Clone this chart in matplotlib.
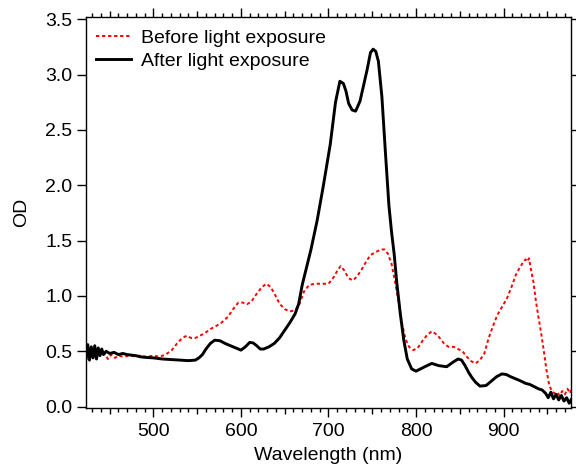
import numpy as np
import matplotlib
matplotlib.use("Agg")
import matplotlib.pyplot as plt
from matplotlib.ticker import MultipleLocator

plt.rcParams['font.family'] = ['Liberation Sans', 'DejaVu Sans']

# after light exposure (black)
wl_after = [423, 425, 427, 429, 431, 433, 435, 437, 439, 441, 443, 446, 450, 455, 460,
            465, 470, 475, 480, 485, 490, 500, 510, 520, 530, 540, 548, 552, 556, 560,
            565, 570, 576, 582, 588, 594, 600, 605, 610, 614, 618, 622, 626, 632, 638,
            644, 650, 656, 662, 666, 670, 675, 680, 687, 694, 702, 708, 713, 717, 720,
            723, 727, 731, 736, 740, 744, 748, 751, 754, 757, 761, 765, 769, 772, 775,
            778, 782, 786, 790, 795, 800, 805, 810, 818, 826, 835, 842, 848, 852, 856,
            860, 864, 868, 873, 880, 886, 892, 898, 903, 908, 914, 920, 925, 930, 935,
            940, 944, 948, 951, 954, 957, 960, 963, 966, 969, 972, 975, 977]
od_after = [0.45, 0.56, 0.42, 0.54, 0.44, 0.55, 0.43, 0.53, 0.46, 0.52, 0.47, 0.50, 0.48, 0.49, 0.47,
            0.48, 0.47, 0.465, 0.46, 0.45, 0.445, 0.44, 0.43, 0.425, 0.42, 0.415, 0.42, 0.44, 0.47, 0.52,
            0.57, 0.60, 0.595, 0.57, 0.55, 0.53, 0.51, 0.54, 0.58, 0.575, 0.55, 0.52, 0.52, 0.54, 0.57,
            0.62, 0.69, 0.76, 0.84, 0.93, 1.10, 1.26, 1.42, 1.68, 1.99, 2.37, 2.75, 2.94, 2.92, 2.85,
            2.74, 2.68, 2.67, 2.76, 2.90, 3.04, 3.20, 3.23, 3.21, 3.12, 2.80, 2.30, 1.82, 1.58, 1.38,
            1.12, 0.84, 0.60, 0.43, 0.34, 0.32, 0.34, 0.36, 0.39, 0.37, 0.36, 0.40, 0.43, 0.42, 0.37,
            0.31, 0.26, 0.22, 0.185, 0.19, 0.23, 0.27, 0.295, 0.29, 0.27, 0.25, 0.23, 0.21, 0.20, 0.18,
            0.16, 0.15, 0.12, 0.08, 0.13, 0.07, 0.11, 0.06, 0.10, 0.05, 0.08, 0.03, 0.06]

# before light exposure (red dotted)
wl_before = [423, 425, 427, 429, 431, 434, 437, 440, 444, 448, 452, 456, 460, 466, 472,
             478, 485, 492, 500, 507, 514, 521, 527, 533, 538, 543, 548, 553, 558, 565,
             572, 578, 585, 591, 597, 602, 607, 612, 618, 624, 629, 634, 639, 644, 650,
             656, 662, 667, 672, 678, 685, 692, 700, 706, 711, 714, 718, 723, 728, 733,
             738, 743, 748, 755, 760, 764, 768, 772, 776, 780, 784, 788, 792, 797, 802,
             808, 813, 818, 822, 826, 832, 837, 843, 848, 853, 858, 863, 868, 873, 878,
             883, 888, 893, 899, 904, 909, 914, 918, 922, 925, 927, 929, 931, 934, 937,
             940, 943, 946, 949, 952, 955, 958, 961, 964, 967, 970, 973, 976, 977]
od_before = [0.58, 0.42, 0.52, 0.45, 0.50, 0.44, 0.51, 0.46, 0.48, 0.43, 0.47, 0.44, 0.46, 0.45, 0.46,
             0.455, 0.46, 0.45, 0.46, 0.45, 0.47, 0.51, 0.57, 0.62, 0.64, 0.62, 0.62, 0.64, 0.66, 0.70,
             0.73, 0.76, 0.81, 0.88, 0.94, 0.94, 0.925, 0.95, 1.02, 1.08, 1.11, 1.08, 1.01, 0.93, 0.88,
             0.86, 0.87, 0.93, 1.04, 1.10, 1.11, 1.11, 1.11, 1.17, 1.24, 1.27, 1.23, 1.16, 1.14, 1.18,
             1.24, 1.31, 1.37, 1.40, 1.42, 1.42, 1.38, 1.29, 1.13, 0.95, 0.75, 0.61, 0.54, 0.51, 0.53,
             0.60, 0.65, 0.68, 0.66, 0.63, 0.57, 0.54, 0.54, 0.52, 0.50, 0.45, 0.41, 0.39, 0.42, 0.48,
             0.62, 0.73, 0.83, 0.91, 0.98, 1.08, 1.19, 1.25, 1.30, 1.33, 1.31, 1.34, 1.25, 1.13, 0.95,
             0.80, 0.66, 0.50, 0.33, 0.20, 0.14, 0.12, 0.13, 0.10, 0.14, 0.11, 0.16, 0.12, 0.15]

fig = plt.figure(figsize=(5.76, 4.68), dpi=100)
ax = fig.add_axes([0.1493, 0.1289, 0.8420, 0.8341])

ax.plot(wl_before, od_before, color='red', lw=1.4, ls=(0, (1.7, 1.4)), label='Before light exposure')
ax.plot(wl_after, od_after, color='black', lw=2.1, label='After light exposure')

ax.set_xlim(423, 977)
ax.set_ylim(-0.01, 3.518)
ax.xaxis.set_major_locator(MultipleLocator(100))
ax.xaxis.set_minor_locator(MultipleLocator(10))
ax.yaxis.set_major_locator(MultipleLocator(0.5))
ax.yaxis.set_major_formatter(matplotlib.ticker.FormatStrFormatter('%.1f'))

ax.tick_params(axis='both', which='both', direction='out', top=True, right=True,
               width=1.0, labelsize=14)
ax.tick_params(axis='x', which='major', length=6.5, pad=4.5)
ax.tick_params(axis='x', which='minor', length=2.8)
ax.tick_params(axis='y', which='major', length=6.3, pad=3.5)

# medium ticks every 50 nm
for tick, loc in zip(ax.xaxis.get_minor_ticks(), ax.xaxis.get_minorticklocs()):
    if abs(loc % 50) < 1e-6:
        tick.tick1line.set_markersize(4.3)
        tick.tick2line.set_markersize(4.0)
# shorter ticks on the right side
for tick in ax.yaxis.get_major_ticks():
    tick.tick2line.set_markersize(4)

for s in ax.spines.values():
    s.set_linewidth(1.0)

ax.set_xlabel('Wavelength (nm)', fontsize=14, labelpad=5)
ax.set_ylabel('OD', fontsize=14, labelpad=11)

ax.legend(loc='upper left', frameon=False, fontsize=14, handlelength=1.8,
          handletextpad=0.5, labelspacing=0.3, borderaxespad=0.0,
          bbox_to_anchor=(0.0045, 0.9895))

fig.savefig('out.png', dpi=100)
